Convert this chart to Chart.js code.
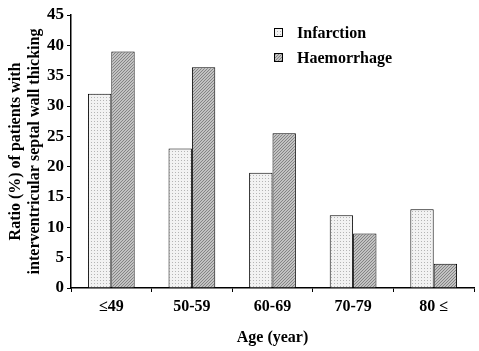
<!DOCTYPE html>
<html>
<head>
<meta charset="utf-8">
<script src="https://cdn.jsdelivr.net/npm/chart.js@4"></script>
<style>
  html, body { margin: 0; padding: 0; background: #fff; }
  #wrap { width: 479px; height: 351px; }
</style>
</head>
<body>
<div id="wrap"><canvas id="chart"></canvas></div>
<script>
const ageGroups = ['\u226449', '50-59', '60-69', '70-79', '80 \u2264'];
const infarction = [32, 23, 19, 12, 13];
const haemorrhage = [39, 36.4, 25.5, 9, 4];
const yTicks = [0, 5, 10, 15, 20, 25, 30, 35, 40, 45];

// small texture tiles like the printed figure
function dots() {
    const c = document.createElement('canvas');
    c.width = 3; c.height = 3;
    const g = c.getContext('2d');
    g.fillStyle = '#f2f2f2';
    g.fillRect(0, 0, 3, 3);
    g.fillStyle = '#b4b4b4';
    g.fillRect(1, 1, 1, 1);
    return g.createPattern(c, 'repeat');
}
function hatch() {
    const c = document.createElement('canvas');
    c.width = 3; c.height = 3;
    const g = c.getContext('2d');
    g.fillStyle = '#c2c2c2';
    g.fillRect(0, 0, 3, 3);
    g.fillStyle = '#848484';
    for (let i = 0; i < 3; i++) g.fillRect(i, 2 - i, 1, 1);
    return g.createPattern(c, 'repeat');
}

const serif = '"Liberation Serif", "Times New Roman", serif';

const legendBox = {
    id: 'legendBox',
    afterDraw(chart) {
        const ctx = chart.ctx;
        ctx.save();
        ctx.font = 'bold 16px ' + serif;
        ctx.textBaseline = 'middle';
        chart.data.datasets.forEach((ds, i) => {
            const y = 34 + i * 25;
            ctx.fillStyle = ds.backgroundColor;
            ctx.fillRect(274, y - 6, 9, 9);
            ctx.strokeStyle = '#000';
            ctx.lineWidth = 1;
            ctx.strokeRect(274.5, y - 5.5, 8, 8);
            ctx.fillStyle = '#000';
            ctx.fillText(ds.label, 297, y);
        });
        ctx.restore();
    }
};

const config = {
    type: 'bar',
    data: {
        labels: ageGroups,
        datasets: [{
            label: 'Infarction',
            data: infarction,
            backgroundColor: dots(),
            borderColor: '#000',
            borderWidth: 1
        }, {
            label: 'Haemorrhage',
            data: haemorrhage,
            backgroundColor: hatch(),
            borderColor: '#000',
            borderWidth: 1
        }]
    },
    options: {
        responsive: true,
        maintainAspectRatio: false,
        animation: false,
        layout: { padding: { top: 15, right: 5, left: 0, bottom: 0 } },
        plugins: {
            legend: { display: false },
            tooltip: { enabled: false }
        },
        datasets: {
            bar: { categoryPercentage: 0.58, barPercentage: 1 }
        },
        scales: {
            x: {
                offset: true,
                grid: {
                    offset: true,
                    drawOnChartArea: false,
                    tickLength: 4,
                    color: '#000'
                },
                border: { color: '#000', width: 1.5 },
                ticks: {
                    color: '#000',
                    font: { family: serif, size: 16, weight: 'bold' },
                    padding: 5
                },
                title: {
                    display: true,
                    text: 'Age (year)',
                    color: '#000',
                    font: { family: serif, size: 16, weight: 'bold' },
                    padding: { top: 12 }
                },
                afterFit(scale) { scale.height = 63; }
            },
            y: {
                min: 0,
                max: 45,
                afterBuildTicks(scale) {
                    scale.ticks = yTicks.map(v => ({ value: v }));
                },
                grid: {
                    drawOnChartArea: false,
                    tickLength: 4,
                    color: '#000'
                },
                border: { color: '#000', width: 1.5 },
                ticks: {
                    color: '#000',
                    font: { family: serif, size: 17, weight: 'bold' },
                    padding: 3
                },
                title: {
                    display: true,
                    text: ['Ratio (%) of patients with', 'interventricular septal wall thicking'],
                    color: '#000',
                    font: { family: serif, size: 16, weight: 'bold', lineHeight: 1.15 },
                    padding: { top: 7, bottom: 0 }
                },
                afterFit(scale) { scale.width = 71; }
            }
        }
    },
    plugins: [legendBox]
};

const chart = new Chart(document.getElementById('chart').getContext('2d'), config);
</script>
</body>
</html>
